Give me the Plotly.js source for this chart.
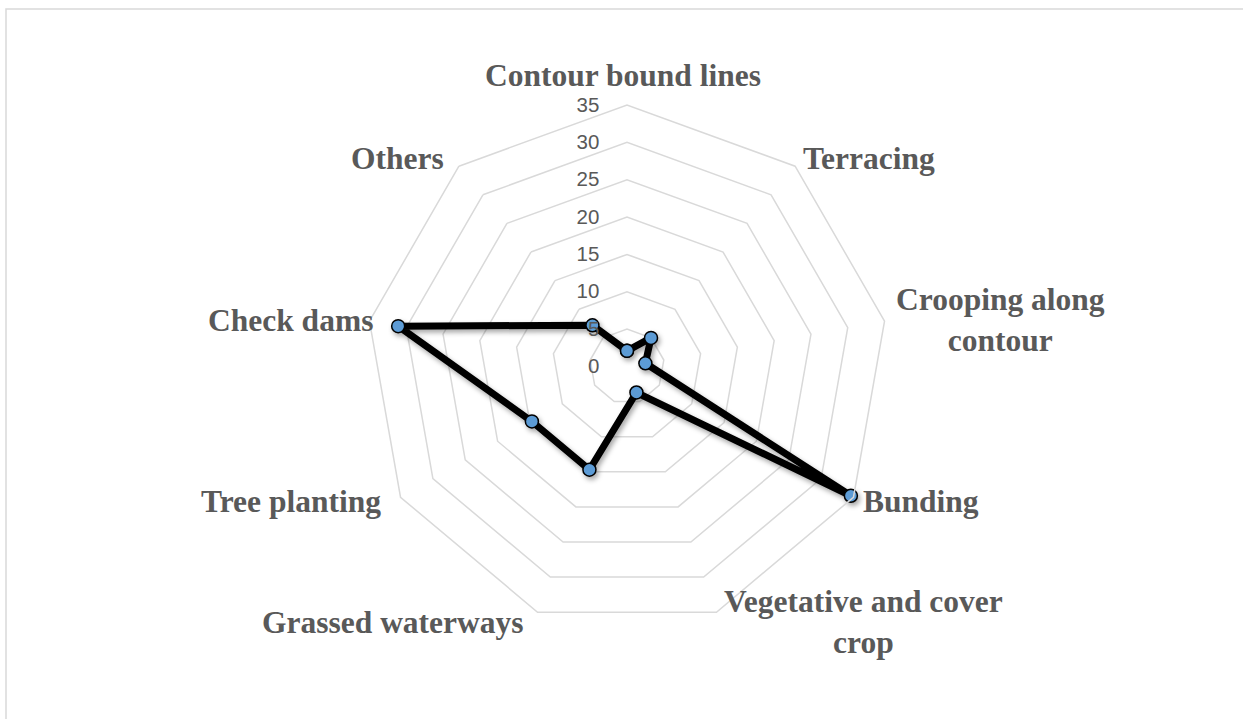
<!DOCTYPE html>
<html>
<head>
<meta charset="utf-8">
<script src="https://cdn.plot.ly/plotly-3.0.1.min.js"></script>
<style>
  html, body { margin: 0; padding: 0; background: #ffffff; }
  #chart { width: 1243px; height: 719px; }
</style>
</head>
<body>
<div id="chart"></div>
<script>
// Soil and water conservation practices (radar)
const categories = [
  'Contour bound lines',
  'Terracing',
  'Crooping along contour',
  'Bunding',
  'Vegetative and cover crop',
  'Grassed waterways',
  'Tree planting',
  'Check dams',
  'Others'
];
const values = [2.1, 5, 2.5, 34.6, 3.7, 14.7, 14.7, 31.1, 7.2];
const radialTicks = [0, 5, 10, 15, 20, 25, 30, 35];

// Category label placement (pixel centres) and line breaks
const labelText = [
  'Contour bound lines',
  'Terracing',
  'Crooping along<br>contour',
  'Bunding',
  'Vegetative and cover<br>crop',
  'Grassed waterways',
  'Tree planting',
  'Check dams',
  'Others'
];
const labelPos = [
  [623, 76], [869, 158], [1000, 320], [921, 502], [863, 622],
  [393, 622], [291, 502], [290, 320], [397, 158]
];

const W = 1243, H = 719;
const cx = 627, cy = 366.5, R = 261.5;

// close the loop
const rVals = values.concat([values[0]]);
const thetaVals = categories.concat([categories[0]]);

const trace = {
  type: 'scatterpolar',
  mode: 'lines+markers',
  r: rVals,
  theta: thetaVals,
  line: { color: '#000000', width: 7 },
  marker: { size: 13, color: '#5b9bd5', line: { color: '#000000', width: 1.5 } },
  hoverinfo: 'skip',
  showlegend: false
};

const annotations = categories.map((c, i) => ({
  xref: 'paper', yref: 'paper',
  x: labelPos[i][0] / W, y: 1 - labelPos[i][1] / H,
  xanchor: 'center', yanchor: 'middle',
  text: '<b>' + labelText[i] + '</b>', showarrow: false, align: 'center',
  font: { family: 'Liberation Serif, Times New Roman, serif', size: 31.5, color: '#595959' }
}));

const layout = {
  width: W, height: H,
  margin: { l: 0, r: 0, t: 0, b: 0 },
  paper_bgcolor: '#ffffff',
  showlegend: false,
  polar: {
    domain: { x: [(cx - R) / W, (cx + R) / W], y: [1 - (cy + R) / H, 1 - (cy - R) / H] },
    bgcolor: 'rgba(0,0,0,0)',
    gridshape: 'linear',
    radialaxis: {
      range: [0, 35],
      tickvals: radialTicks,
      ticktext: radialTicks.map(String),
      angle: 90,
      side: 'counterclockwise',
      tickangle: 90,
      showline: false,
      ticks: 'outside', ticklen: 20, tickcolor: 'rgba(0,0,0,0)',
      gridcolor: '#d9d9d9', gridwidth: 1.5,
      tickfont: { family: 'Liberation Sans, Arial, sans-serif', size: 20.5, color: '#595959' }
    },
    angularaxis: {
      type: 'category',
      categoryarray: categories,
      rotation: 90,
      direction: 'clockwise',
      showticklabels: false,
      ticks: '',
      showgrid: false,
      showline: true,
      linecolor: '#d9d9d9', linewidth: 1.5
    }
  },
  annotations: annotations,
  shapes: [{
    type: 'rect', xref: 'paper', yref: 'paper',
    x0: 6 / W, x1: 1.2, y0: -0.2, y1: 1 - 9 / H,
    line: { color: '#d9d9d9', width: 1.5 }, fillcolor: 'rgba(0,0,0,0)', layer: 'below'
  }]
};

Plotly.newPlot('chart', [trace], layout, { displayModeBar: false, staticPlot: true }).then(gd => {
  // soft drop shadow under the series line
  const svg = gd.querySelector('svg.main-svg');
  const ns = 'http://www.w3.org/2000/svg';
  let defs = svg.querySelector('defs');
  if (!defs) { defs = document.createElementNS(ns, 'defs'); svg.insertBefore(defs, svg.firstChild); }
  const f = document.createElementNS(ns, 'filter');
  f.setAttribute('id', 'lineShadow');
  f.setAttribute('x', '-20%'); f.setAttribute('y', '-20%');
  f.setAttribute('width', '140%'); f.setAttribute('height', '140%');
  const ds = document.createElementNS(ns, 'feDropShadow');
  ds.setAttribute('dx', '2'); ds.setAttribute('dy', '3');
  ds.setAttribute('stdDeviation', '2.5');
  ds.setAttribute('flood-color', '#000'); ds.setAttribute('flood-opacity', '0.35');
  f.appendChild(ds);
  defs.appendChild(f);
  gd.querySelectorAll('.polarlayer .scatterlayer .trace').forEach(t => t.setAttribute('filter', 'url(#lineShadow)'));
});
</script>
</body>
</html>
